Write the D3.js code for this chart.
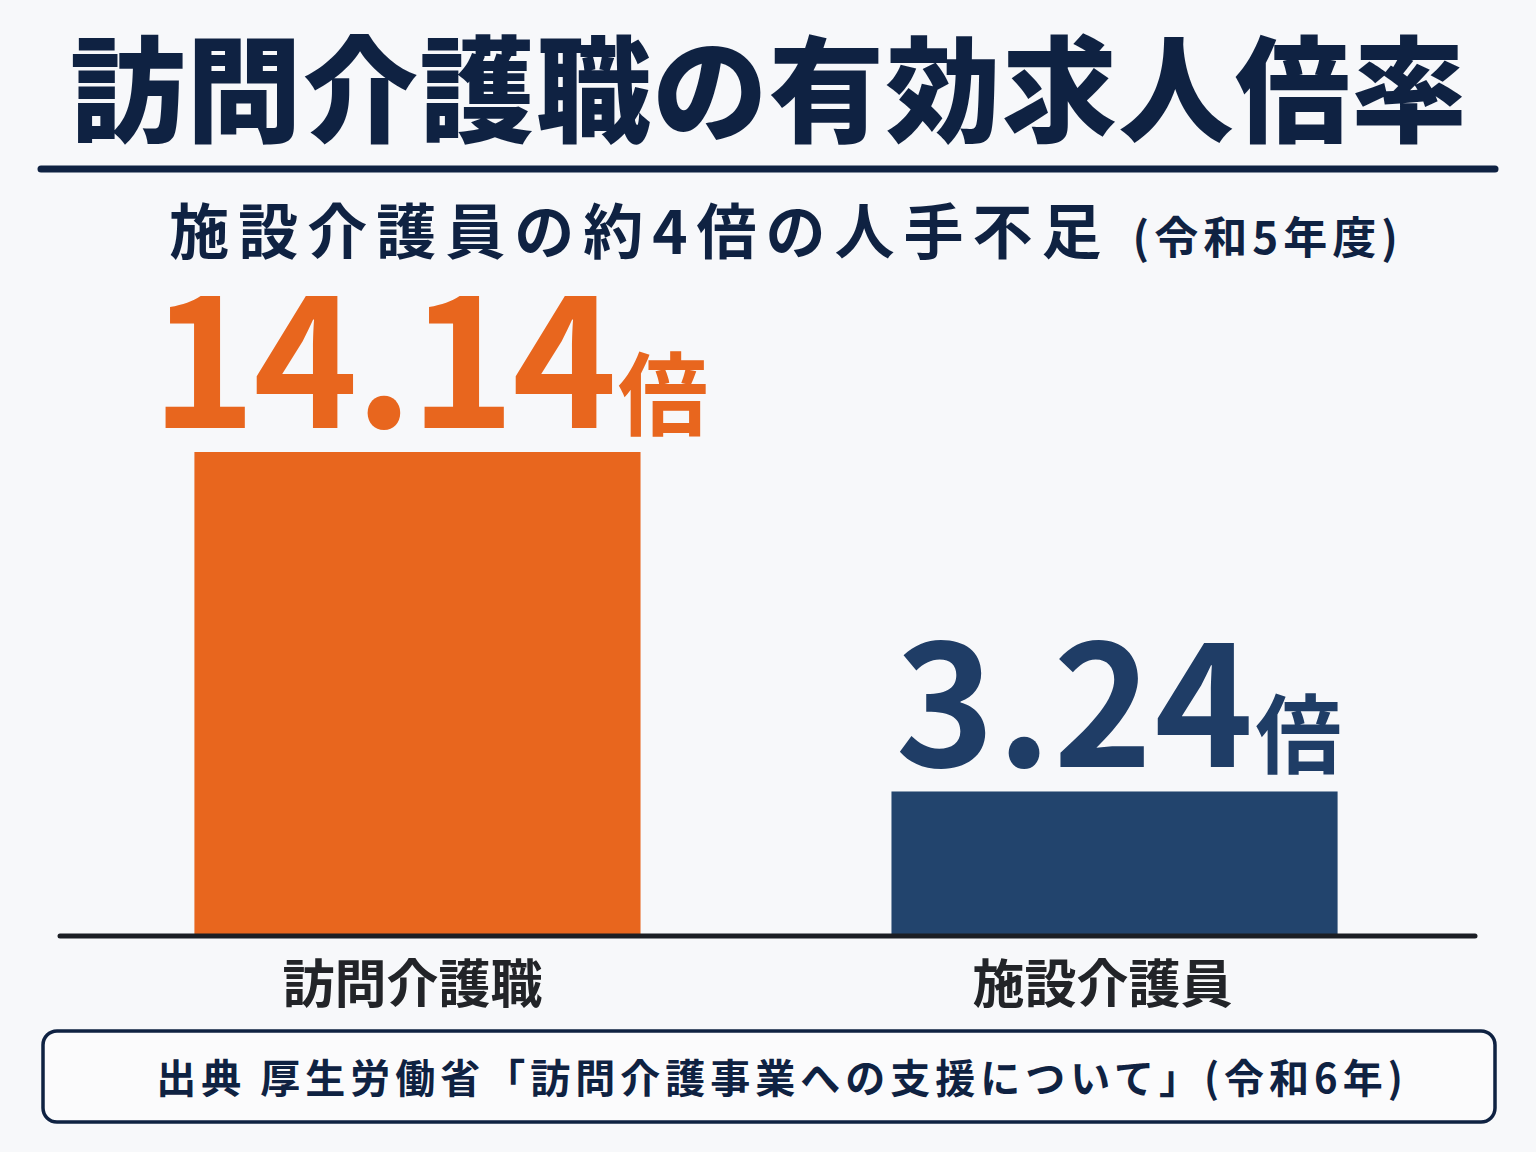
<!DOCTYPE html>
<html>
<head>
<meta charset="utf-8">
<script src="https://cdn.jsdelivr.net/npm/d3@7"></script>
<style>
  body { margin: 0; background: #f7f8fa; }
  svg { display: block; }
</style>
</head>
<body>
<div id="chart"></div>
<script>
const categories = ["訪問介護職", "施設介護員"];
const ratios = [14.14, 3.24];
const unitLabel = "倍";
const titleText = "訪問介護職の有効求人倍率";
const subtitleText = "施設介護員の約4倍の人手不足";
const subtitleNote = "(令和5年度)";
const sourceHead = "出典";
const sourceText = "厚生労働省「訪問介護事業への支援について」(令和6年)";

const width = 1536;
const height = 1152;
const font = "'Noto Sans CJK JP', 'Noto Sans', sans-serif";
const navy = "#0f2242";
const barColors = ["#e8661e", "#22446d"];
const labelColors = ["#e8661e", "#1f3d66"];

const svg = d3.select("#chart")
    .append("svg")
    .attr("width", width)
    .attr("height", height)
    .attr("viewBox", `0 0 ${width} ${height}`)
    .style("font-family", font);

svg.append("rect")
    .attr("width", width)
    .attr("height", height)
    .attr("fill", "#f7f8fa");

// title + rule
svg.append("text")
    .attr("x", 769)
    .attr("y", 133)
    .attr("text-anchor", "middle")
    .attr("font-size", 115)
    .attr("letter-spacing", 1.5)
    .attr("font-weight", 900)
    .attr("fill", navy)
    .text(titleText);

svg.append("line")
    .attr("x1", 41).attr("x2", 1495)
    .attr("y1", 169).attr("y2", 169)
    .attr("stroke", navy)
    .attr("stroke-width", 7)
    .attr("stroke-linecap", "round");

// subtitle
const sub = svg.append("text")
    .attr("x", 786)
    .attr("y", 254)
    .attr("text-anchor", "middle")
    .attr("font-weight", 700)
    .attr("fill", navy);
sub.append("tspan")
    .attr("font-size", 60)
    .attr("letter-spacing", 9)
    .text(subtitleText);
sub.append("tspan")
    .attr("dx", 22)
    .attr("font-size", 44)
    .attr("letter-spacing", 5)
    .text(subtitleNote);

// scales
const xScale = d3.scaleBand()
    .domain(categories)
    .range([55, 1477])
    .paddingInner(0.36)
    .paddingOuter(0.2);

// the picture's bars are not drawn from zero: the baseline sits a little below 0
const yScale = d3.scaleLinear()
    .domain([-1.4, 14.14])
    .range([936, 452]);

const data = categories.map((c, i) => ({category: c, value: ratios[i], i: i}));

svg.selectAll("rect.bar")
    .data(data)
    .enter()
    .append("rect")
    .attr("class", "bar")
    .attr("x", d => xScale(d.category))
    .attr("y", d => yScale(d.value))
    .attr("width", xScale.bandwidth())
    .attr("height", d => yScale.range()[0] - yScale(d.value))
    .attr("fill", d => barColors[d.i]);

// value labels
const fmt = d3.format(".2f");
const labels = svg.selectAll("text.value")
    .data(data)
    .enter()
    .append("text")
    .attr("class", "value")
    .attr("x", d => xScale(d.category) + xScale.bandwidth() / 2 + (d.i === 0 ? 12 : 4))
    .attr("y", d => yScale(d.value) - 24)
    .attr("text-anchor", "middle")
    .attr("font-weight", 700)
    .attr("fill", d => labelColors[d.i]);
labels.append("tspan")
    .attr("font-size", d => d.i === 0 ? 178 : 168)
    .attr("letter-spacing", d => d.i === 0 ? -3 : 2)
    .text(d => fmt(d.value));
labels.append("tspan")
    .attr("dx", d => d.i === 0 ? 4 : 0)
    .attr("font-size", d => d.i === 0 ? 90 : 86)
    .text(unitLabel);

// baseline axis
svg.append("line")
    .attr("x1", 60).attr("x2", 1475)
    .attr("y1", yScale.range()[0]).attr("y2", yScale.range()[0])
    .attr("stroke", "#1b1e24")
    .attr("stroke-width", 5)
    .attr("stroke-linecap", "round");

// category labels
svg.selectAll("text.cat")
    .data(data)
    .enter()
    .append("text")
    .attr("class", "cat")
    .attr("x", d => xScale(d.category) + xScale.bandwidth() / 2 - (d.i === 0 ? 5 : 12))
    .attr("y", 1003)
    .attr("text-anchor", "middle")
    .attr("font-size", 52)
    .attr("font-weight", 700)
    .attr("fill", "#222428")
    .text(d => d.category);

// source box
svg.append("rect")
    .attr("x", 43).attr("y", 1031)
    .attr("width", 1452).attr("height", 91)
    .attr("rx", 14)
    .attr("fill", "#fbfbfc")
    .attr("stroke", navy)
    .attr("stroke-width", 3.5);

const src = svg.append("text")
    .attr("x", 782)
    .attr("y", 1093)
    .attr("text-anchor", "middle")
    .attr("font-size", 40)
    .attr("font-weight", 700)
    .attr("letter-spacing", 5)
    .attr("fill", navy);
src.append("tspan").text(sourceHead);
src.append("tspan").attr("dx", 14).text(sourceText);
</script>
</body>
</html>
